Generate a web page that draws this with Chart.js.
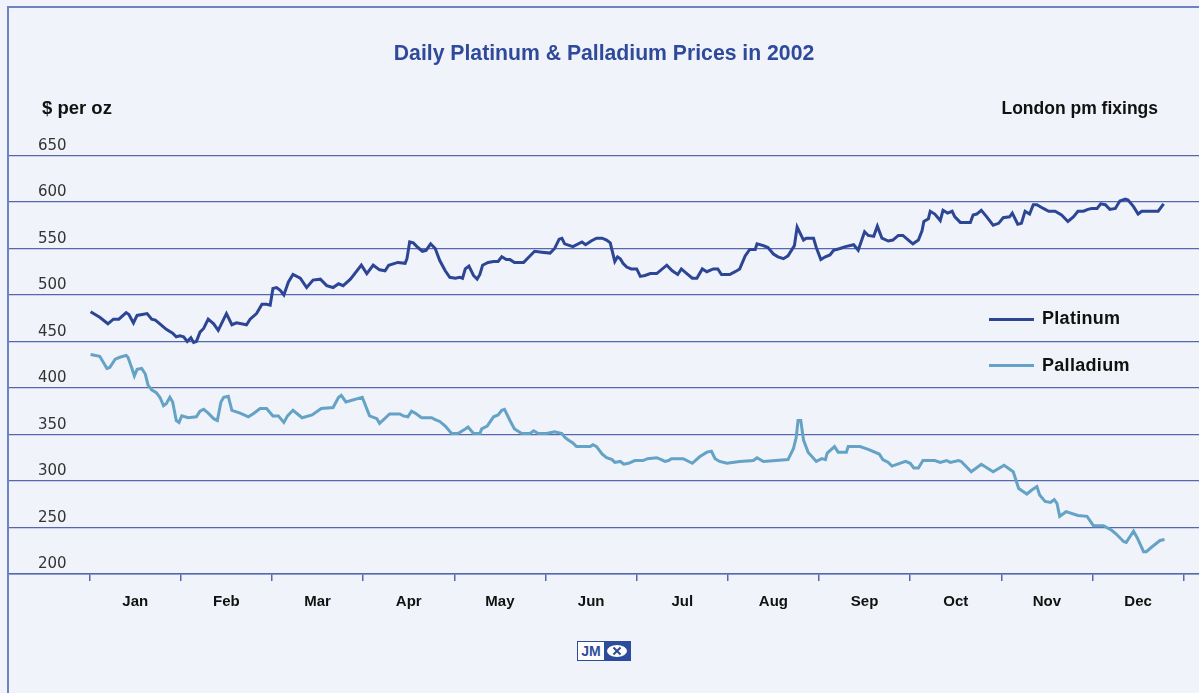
<!DOCTYPE html>
<html>
<head>
<meta charset="utf-8">
<script src="https://cdn.jsdelivr.net/npm/chart.js@4.4.1/dist/chart.umd.min.js"></script>
<style>
body { margin:0; background:#f0f3f9; width:1199px; height:693px; overflow:hidden; position:relative; font-family:"Liberation Sans", Arial, sans-serif; }
#frame { position:absolute; left:7px; top:6px; width:1192px; height:687px; border-left:2px solid #7082c6; border-top:2px solid #7082c6; }
#wrap { position:absolute; left:0; top:0; width:1190px; height:685px; }
.note { position:absolute; font-weight:bold; font-size:17.5px; line-height:20px; color:#111; white-space:nowrap; }
.key { position:absolute; left:989px; width:45px; height:3px; }
.keytext { position:absolute; left:1042px; font-weight:bold; font-size:18px; line-height:20px; color:#111; letter-spacing:0.3px; }
#logo { position:absolute; left:577px; top:641px; width:52px; height:18px; border:1px solid #2e4c9c; background:#2e4c9c; display:flex; }
#logo .jm { width:26px; background:#fff; color:#2e4c9c; font-weight:bold; font-size:14px; line-height:18px; text-align:center; }
#logo .oval { margin:3px 3px; width:20px; height:12px; border-radius:50%; background:#fff; position:relative; }
#logo .oval i { position:absolute; left:9px; top:1px; width:2px; height:10px; background:#2e4c9c; }
</style>
</head>
<body>
<div id="frame"><div id="wrap"><canvas id="chart"></canvas></div></div>
<div class="note" style="left:42px; top:98px; font-size:18.5px;">$ per oz</div>
<div class="note" style="right:41px; top:98px;">London pm fixings</div>
<div class="key" style="top:318px; background:#2c4595;"></div>
<div class="keytext" style="top:308px;">Platinum</div>
<div class="key" style="top:364px; background:#64a2c6;"></div>
<div class="keytext" style="top:355px;">Palladium</div>
<div id="logo"><div class="jm">JM</div><div class="oval"><i style="transform:rotate(45deg)"></i><i style="transform:rotate(-45deg)"></i></div></div>
<script>
const months = ['Jan','Feb','Mar','Apr','May','Jun','Jul','Aug','Sep','Oct','Nov','Dec']

// x = position in months from 1 Jan (0 = start of Jan, 12 = end of Dec)
const platX = [0.01,0.11,0.20,0.26,0.32,0.40,0.43,0.48,0.52,0.63,
  0.68,0.72,0.77,0.84,0.91,0.95,0.99,1.03,1.07,1.11,
  1.14,1.17,1.21,1.25,1.30,1.36,1.41,1.45,1.50,1.56,
  1.61,1.72,1.76,1.83,1.89,1.94,1.98,2.01,2.05,2.09,
  2.13,2.18,2.23,2.31,2.38,2.45,2.53,2.60,2.67,2.73,
  2.78,2.86,2.98,3.04,3.11,3.18,3.24,3.28,3.38,3.46,
  3.48,3.51,3.55,3.60,3.65,3.69,3.74,3.79,3.84,3.90,
  3.95,4.01,4.06,4.09,4.12,4.16,4.21,4.25,4.28,4.31,
  4.37,4.43,4.48,4.52,4.57,4.61,4.66,4.76,4.81,4.88,
  4.96,5.05,5.10,5.15,5.18,5.21,5.30,5.40,5.44,5.50,
  5.56,5.62,5.67,5.71,5.76,5.79,5.82,5.85,5.89,5.94,
  6.00,6.04,6.09,6.15,6.22,6.33,6.39,6.45,6.49,6.55,
  6.61,6.66,6.72,6.77,6.84,6.89,6.93,7.02,7.08,7.13,
  7.19,7.24,7.30,7.32,7.39,7.44,7.50,7.55,7.61,7.66,
  7.73,7.76,7.83,7.86,7.94,7.97,8.02,8.07,8.12,8.16,
  8.23,8.29,8.38,8.43,8.50,8.54,8.60,8.64,8.69,8.76,
  8.81,8.87,8.92,8.98,9.03,9.09,9.13,9.15,9.20,9.22,
  9.27,9.33,9.36,9.41,9.46,9.49,9.55,9.66,9.69,9.73,
  9.78,9.84,9.91,9.97,10.02,10.09,10.12,10.18,10.22,10.26,
  10.31,10.35,10.39,10.46,10.52,10.59,10.66,10.73,10.79,10.84,
  10.90,10.95,10.99,11.05,11.09,11.14,11.19,11.25,11.30,11.36,
  11.39,11.45,11.50,11.54,11.59,11.72,11.78]
const platY = [482,476,469,474,474,481,479,470,478,480,
  474,473,469,463,459,455,456,455,450,454,
  449,450,460,464,474,469,462,470,480,468,
  470,468,474,480,490,490,489,507,508,505,
  500,514,522,518,508,516,517,510,508,512,
  510,517,532,523,532,527,526,532,535,534,
  539,557,556,551,547,548,555,550,537,526,
  519,518,519,518,528,531,521,517,522,532,
  535,536,536,541,538,538,535,535,540,547,
  546,545,550,560,561,555,552,557,554,558,
  561,561,559,556,536,541,539,534,530,528,
  528,520,521,523,523,532,526,522,528,523,
  518,518,528,525,528,528,522,522,525,528,
  542,549,549,555,553,551,544,541,539,542,
  553,573,559,561,561,551,538,541,543,548,
  550,552,554,548,568,564,563,574,561,558,
  559,564,564,559,555,559,569,579,582,590,
  587,580,591,588,590,584,578,578,586,587,
  591,584,575,577,583,584,588,576,577,590,
  587,597,597,593,590,590,586,579,584,590,
  590,592,593,593,598,597,592,593,601,603,
  602,595,587,590,590,590,598]

const pallX = [0.01,0.11,0.19,0.22,0.28,0.33,0.40,0.42,0.46,0.49,
  0.52,0.57,0.61,0.64,0.68,0.73,0.77,0.81,0.84,0.88,
  0.91,0.95,0.98,1.01,1.08,1.17,1.21,1.25,1.30,1.36,
  1.40,1.44,1.47,1.52,1.56,1.65,1.74,1.79,1.87,1.94,
  2.01,2.07,2.13,2.17,2.23,2.33,2.44,2.54,2.67,2.73,
  2.76,2.81,2.99,3.07,3.15,3.18,3.29,3.40,3.44,3.49,
  3.53,3.57,3.64,3.75,3.79,3.84,3.90,3.97,4.04,4.12,
  4.15,4.21,4.28,4.30,4.36,4.43,4.48,4.52,4.55,4.61,
  4.66,4.74,4.83,4.87,4.92,5.01,5.10,5.18,5.21,5.25,
  5.30,5.34,5.49,5.52,5.56,5.62,5.67,5.73,5.76,5.82,
  5.86,5.91,5.98,6.07,6.12,6.22,6.27,6.31,6.35,6.38,
  6.51,6.61,6.69,6.77,6.82,6.86,6.91,6.99,7.13,7.28,
  7.32,7.39,7.66,7.72,7.75,7.77,7.80,7.83,7.88,7.97,
  8.03,8.07,8.09,8.17,8.21,8.30,8.32,8.45,8.54,8.66,
  8.70,8.76,8.80,8.95,9.00,9.04,9.09,9.14,9.27,9.33,
  9.40,9.44,9.53,9.56,9.67,9.78,9.91,10.03,10.13,10.16,
  10.19,10.28,10.33,10.39,10.42,10.48,10.54,10.58,10.61,10.64,
  10.71,10.84,10.94,11.01,11.12,11.21,11.26,11.34,11.37,11.41,
  11.45,11.49,11.56,11.59,11.65,11.74,11.79]
const pallY = [436,434,421,422,431,433,435,433,422,413,
  420,421,415,403,398,395,390,381,383,390,
  385,365,363,370,368,369,375,377,373,367,
  365,385,390,391,376,373,369,372,378,378,
  370,370,363,370,376,368,371,378,379,390,
  392,385,390,370,367,362,372,372,370,369,
  375,373,368,368,366,364,359,351,351,356,
  358,351,351,356,359,369,371,376,377,365,
  356,351,351,354,351,351,353,351,347,344,
  341,337,337,339,337,329,325,323,320,321,
  318,319,322,322,324,325,323,321,322,324,
  324,319,326,331,332,324,321,319,321,322,
  325,321,323,335,347,365,365,344,331,321,
  324,323,330,337,331,331,337,337,334,329,
  323,320,316,321,319,314,314,322,322,320,
  322,320,322,321,310,318,310,317,310,301,
  292,286,290,294,285,278,277,280,276,262,
  267,263,262,252,252,247,243,235,234,240,
  246,239,224,224,229,236,237]

const gridBlue = '#5567b0'

new Chart('chart', {
  type: 'line',
  data: {
    datasets: [{
      label: 'Platinum',
      data: platX.map((x, i) => ({x: x, y: platY[i]})),
      borderColor: '#2c4595',
      borderWidth: 3,
      pointRadius: 0,
      tension: 0
    }, {
      label: 'Palladium',
      data: pallX.map((x, i) => ({x: x, y: pallY[i]})),
      borderColor: '#64a2c6',
      borderWidth: 3,
      pointRadius: 0,
      tension: 0
    }]
  },
  options: {
    responsive: true,
    maintainAspectRatio: false,
    animation: false,
    layout: {padding: {left: 0, right: 0, top: 0, bottom: 70}},
    plugins: {
      legend: {display: false},
      tooltip: {enabled: false},
      title: {
        display: true,
        text: 'Daily Platinum & Palladium Prices in 2002',
        color: '#2f4a9a',
        font: {family: 'Liberation Sans', size: 21.2, weight: 'bold', lineHeight: 1.2},
        padding: {top: 33, bottom: 89}
      }
    },
    scales: {
      x: {
        type: 'linear',
        min: -0.885,
        max: 12.168,
        afterBuildTicks: (s) => { s.ticks = months.concat(['']).map((m, i) => ({value: i})) },
        ticks: {
          autoSkip: false,
          maxRotation: 0,
          labelOffset: 45.6,
          padding: 12,
          color: '#111',
          font: {family: 'Liberation Sans', size: 15, weight: 'bold'},
          callback: (v) => months[v] || ''
        },
        grid: {drawOnChartArea: false, tickLength: 7, color: gridBlue, lineWidth: 1.5},
        border: {color: gridBlue, width: 1.5}
      },
      y: {
        min: 200,
        max: 650,
        afterFit: (s) => { s.width = 0 },
        ticks: {
          stepSize: 50,
          mirror: true,
          padding: 29,
          labelOffset: -9.5,
          color: '#333',
          font: {family: 'DejaVu Sans', size: 15}
        },
        grid: {color: gridBlue, lineWidth: 1.2, drawTicks: false},
        border: {display: false}
      }
    }
  }
})
</script>
</body>
</html>
